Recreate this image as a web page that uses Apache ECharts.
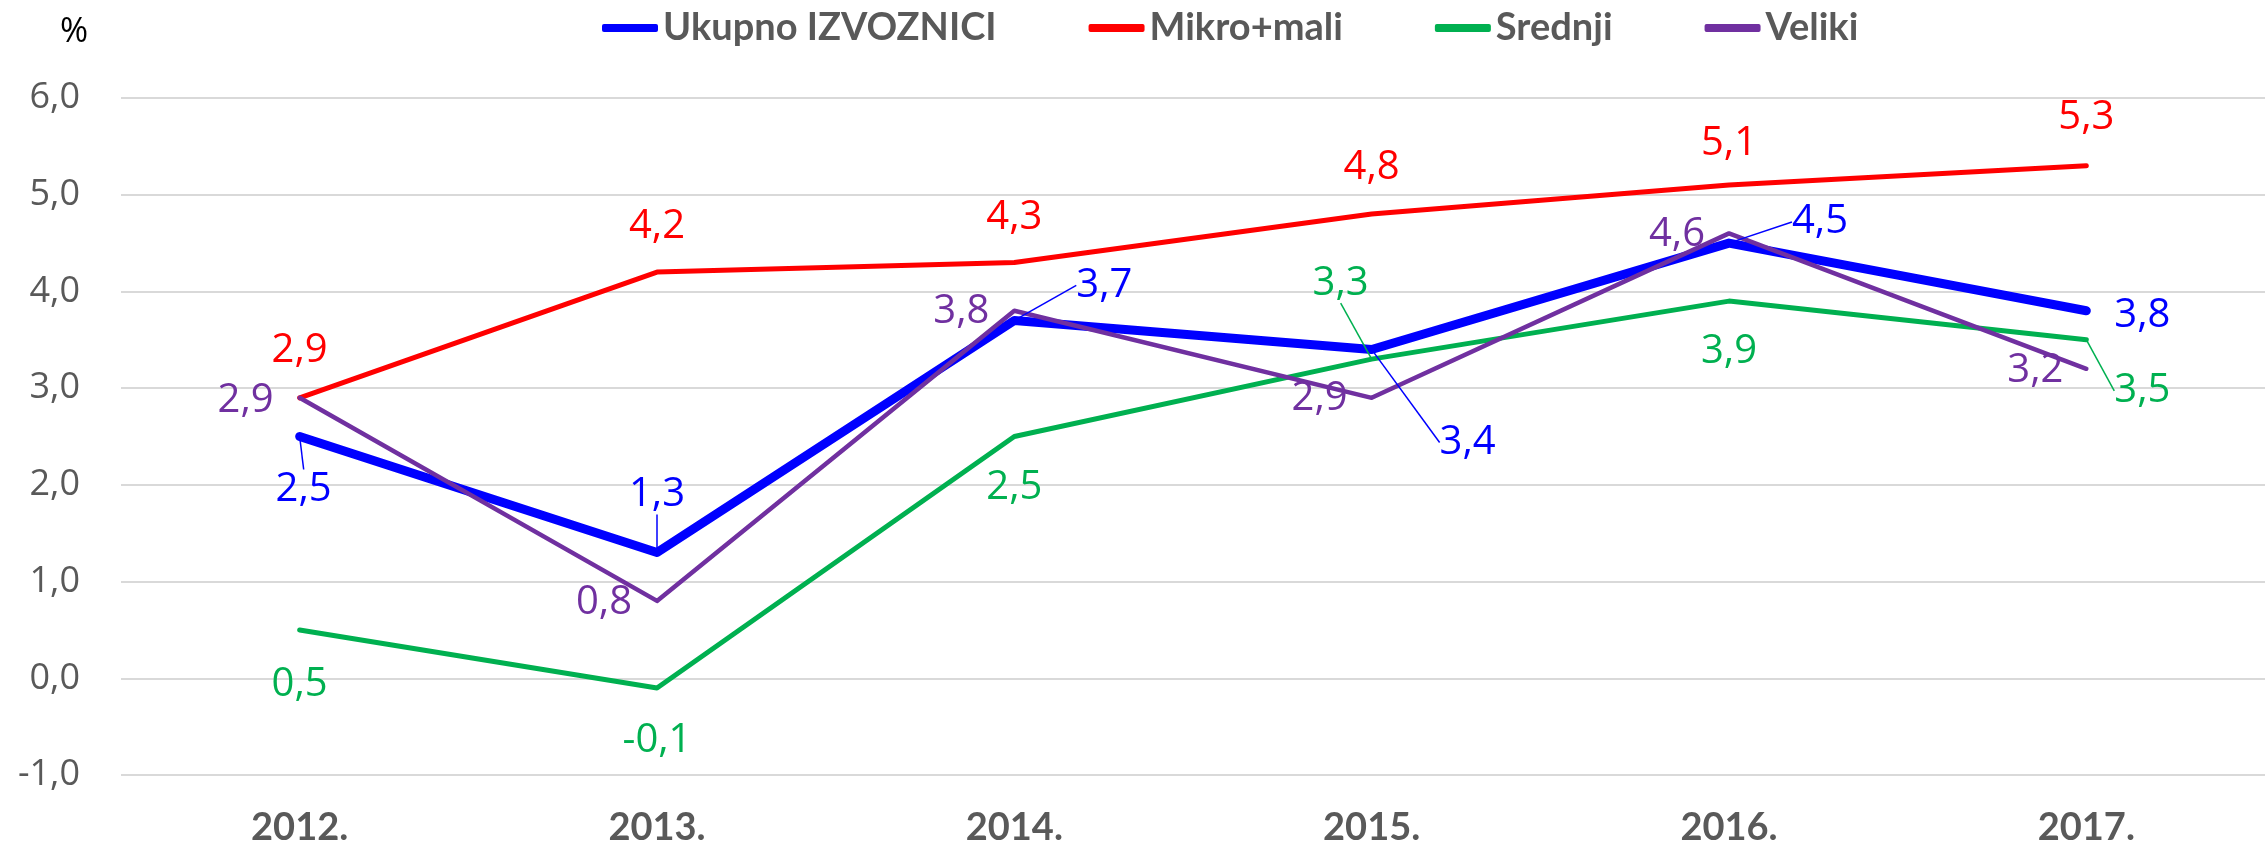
<!DOCTYPE html>
<html>
<head>
<meta charset="utf-8">
<script src="https://cdn.jsdelivr.net/npm/echarts@6/dist/echarts.min.js"></script>
<style>
    html, body { margin: 0; padding: 0; background: #fff; }
    #chart { width: 2265px; height: 848px; }
</style>
</head>
<body>
<div id="chart"></div>
<script>
// podaci
var years = ['2012.', '2013.', '2014.', '2015.', '2016.', '2017.'];
var ukupno = [2.5, 1.3, 3.7, 3.4, 4.5, 3.8];
var mikroMali = [2.9, 4.2, 4.3, 4.8, 5.1, 5.3];
var srednji = [0.5, -0.1, 2.5, 3.3, 3.9, 3.5];
var veliki = [2.9, 0.8, 3.8, 2.9, 4.6, 3.2];

// pomak oznaka od tocke (dx, dy) kao u Excelu
var offsets = {
    ukupno: [[4, 53], [0, -58], [90, -35], [96, 93], [91, -21], [56, 5]],
    mikro: [[0, -47], [0, -45], [0, -45], [0, -46], [0, -41], [0, -48]],
    srednji: [[0, 55], [0, 53], [0, 51], [-31, -76], [0, 51], [56, 51]],
    veliki: [[-54, 3], [-53, 2], [-53, 1], [-52, 1], [-52, 1], [-51, 2]]
};
// tocke s linijom vodilicom
var leaders = { ukupno: [0, 1, 2, 3, 4], mikro: [], srednji: [3, 5], veliki: [] };

function fmt(v) {
    return v.toFixed(1).replace('.', ',');
}

function makeSeries(name, key, values, color, width) {
    return {
        name: name,
        type: 'line',
        data: values.map(function (v, i) {
            var item = { value: v };
            if (leaders[key].indexOf(i) >= 0) {
                item.labelLine = { show: true };
            }
            return item;
        }),
        symbol: 'circle',
        symbolSize: 1,
        showSymbol: true,
        itemStyle: { color: color },
        lineStyle: { color: color, width: width, cap: 'round', join: 'round' },
        label: {
            show: true,
            position: 'inside',
            color: color,
            fontFamily: 'Open Sans',
            fontSize: 40,
            formatter: function (p) { return fmt(p.value); }
        },
        labelLine: { show: false, lineStyle: { color: color, width: 1.5 } },
        labelLayout: function (p) {
            var o = offsets[key][p.dataIndex];
            return { dx: o[0], dy: o[1] };
        },
        emphasis: { disabled: true },
        animation: false
    };
}

var chart = echarts.init(document.getElementById('chart'));
var option = {
    backgroundColor: '#fff',
    animation: false,
    title: {
        text: '%',
        left: 55,
        top: 10,
        textStyle: { fontFamily: 'Open Sans', fontSize: 34, fontWeight: 'normal', color: '#000' }
    },
    legend: {
        left: 597,
        top: 4,
        icon: 'roundRect',
        itemWidth: 56,
        itemHeight: 8,
        itemGap: 92,
        textStyle: { fontFamily: 'Lato', fontWeight: 'bold', fontSize: 38, color: '#595959' },
        data: ['Ukupno IZVOZNICI', 'Mikro+mali', 'Srednji', 'Veliki']
    },
    grid: { left: 121, right: 0, top: 98, bottom: 73 },
    xAxis: {
        type: 'category',
        data: years,
        axisLine: { show: false },
        axisTick: { show: false },
        axisLabel: { fontFamily: 'Lato', fontWeight: 'bold', fontSize: 38, color: '#595959', margin: 34 }
    },
    yAxis: {
        type: 'value',
        min: -1,
        max: 6,
        interval: 1,
        axisLine: { show: false },
        axisTick: { show: false },
        axisLabel: {
            fontFamily: 'Open Sans', fontSize: 36, color: '#595959', margin: 41,
            formatter: function (v) { return fmt(v); }
        },
        splitLine: { lineStyle: { color: '#d9d9d9', width: 2 } }
    },
    series: [
        makeSeries('Ukupno IZVOZNICI', 'ukupno', ukupno, '#0000ff', 9),
        makeSeries('Mikro+mali', 'mikro', mikroMali, '#ff0000', 5),
        makeSeries('Srednji', 'srednji', srednji, '#00b050', 5),
        makeSeries('Veliki', 'veliki', veliki, '#7030a0', 4.5)
    ]
};
chart.setOption(option);
</script>
</body>
</html>
